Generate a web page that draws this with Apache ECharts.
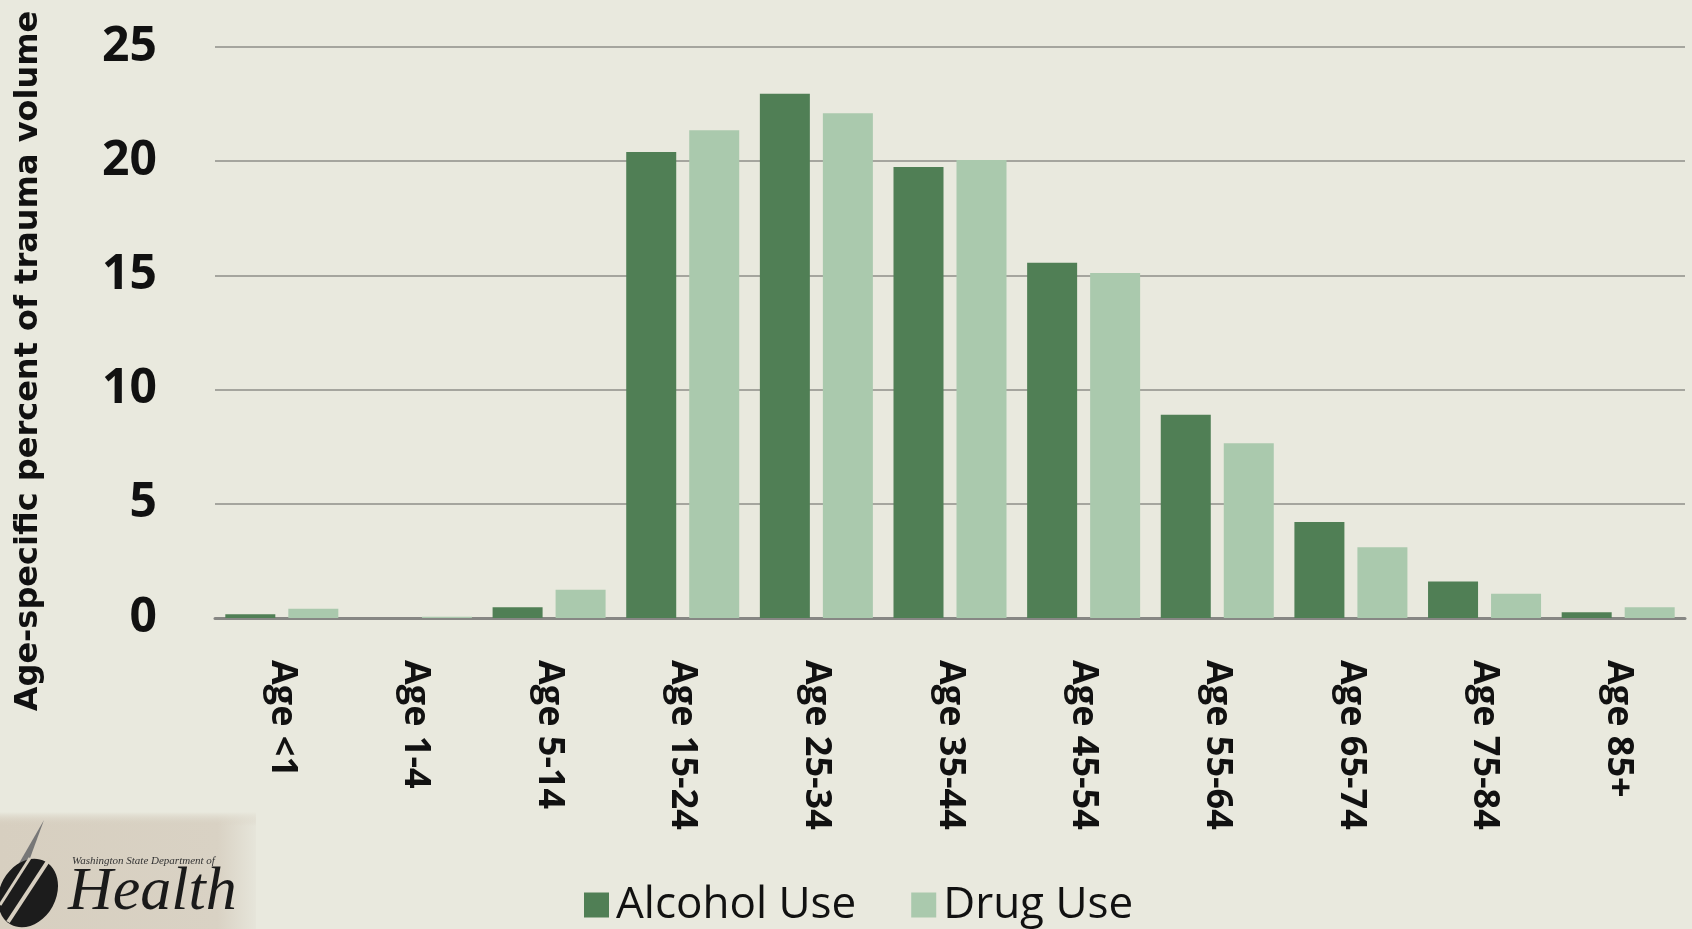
<!DOCTYPE html>
<html>
<head>
<meta charset="utf-8">
<script src="https://cdn.jsdelivr.net/npm/echarts@6/dist/echarts.min.js"></script>
<style>
html,body{margin:0;padding:0;background:#e9e9de;}
#chart{width:1692px;height:929px;}
</style>
</head>
<body>
<div id="chart"></div>
<script>
const categories = ['Age <1','Age 1-4','Age 5-14','Age 15-24','Age 25-34','Age 35-44','Age 45-54','Age 55-64','Age 65-74','Age 75-84','Age 85+'];
const alcoholUse = [0.16, 0, 0.47, 20.4, 22.95, 19.75, 15.55, 8.9, 4.2, 1.6, 0.25];
const drugUse = [0.41, 0.06, 1.24, 21.35, 22.1, 20.05, 15.1, 7.65, 3.1, 1.06, 0.47];
const yTicks = [0, 5, 10, 15, 20, 25];
const seriesNames = ['Alcohol Use', 'Drug Use'];
const yTitle = 'Age-specific percent of trauma volume';

const chart = echarts.init(document.getElementById('chart'), null, {renderer: 'canvas'});
const option = {
  backgroundColor: '#e9e9de',
  animation: false,
  textStyle: {fontFamily: 'Open Sans'},
  grid: {left: 215, right: 7, top: 47, bottom: 311, containLabel: false},
  legend: {
    data: seriesNames,
    left: 579, top: 878,
    itemWidth: 25, itemHeight: 25, itemGap: 55,
    icon: 'rect',
    textStyle: {fontSize: 44, color: '#111', fontFamily: 'Open Sans', padding: [0,0,0,2]}
  },
  xAxis: {
    type: 'category',
    data: categories,
    axisTick: {show: false},
    axisLine: {lineStyle: {color: '#878784', width: 3}},
    axisLabel: {rotate: -90, interval: 0, margin: 42, fontSize: 36, fontWeight: 'bold', color: '#111', fontFamily: 'Open Sans'}
  },
  yAxis: {
    type: 'value',
    min: yTicks[0], max: yTicks[yTicks.length-1], interval: 5,
    axisLine: {show: false},
    axisTick: {show: false},
    splitLine: {lineStyle: {color: '#8e8e89', width: 1.5}},
    axisLabel: {margin: 58, fontSize: 48, fontWeight: 'bold', color: '#111', fontFamily: 'Open Sans'}
  },
  series: [
    {name: seriesNames[0], type: 'bar', data: alcoholUse, barWidth: 50, barGap: '26%',
     itemStyle: {color: '#507f55'}},
    {name: seriesNames[1], type: 'bar', data: drugUse, barWidth: 50,
     itemStyle: {color: '#aac9ad'}}
  ],
  graphic: [
    {type: 'text', x: 13, y: 361, rotation: Math.PI/2, originX: 0, originY: 0,
     style: {text: yTitle, fontSize: 32, fontWeight: 600, fill: '#111', fontFamily: 'DejaVu Sans',
       textAlign: 'center', textVerticalAlign: 'top'}},
    {type: 'rect', shape: {x: 0, y: 812, width: 256, height: 117},
     style: {fill: new echarts.graphic.LinearGradient(0, 0, 1, 0, [
       {offset: 0, color: '#d7cfc0'}, {offset: 0.85, color: '#d9d2c4'}, {offset: 1, color: '#e6e5da'}])}},
    {type: 'rect', shape: {x: 0, y: 812, width: 256, height: 14},
     style: {fill: new echarts.graphic.LinearGradient(0, 0, 0, 1, [
       {offset: 0, color: '#e9e9de'}, {offset: 1, color: 'rgba(215,207,192,0)'}])}},
    {type: 'polygon', shape: {points: [[14,872],[44,820],[22,880]]}, style: {fill: '#777'}},
    {type: 'ellipse', shape: {cx: 28, cy: 893, rx: 28, ry: 36}, rotation: -0.5, originX: 28, originY: 893, style: {fill: '#1c1c1c'}},
    {type: 'line', shape: {x1: 8, y1: 922, x2: 50, y2: 858}, style: {stroke: '#d7cfc0', lineWidth: 4}},
    {type: 'line', shape: {x1: 0, y1: 905, x2: 30, y2: 858}, style: {stroke: '#d7cfc0', lineWidth: 3}},
    {type: 'text', x: 72, y: 856, style: {text: 'Washington State Department of', fontSize: 11, fontStyle: 'italic', fill: '#333', fontFamily: 'Liberation Serif'}},
    {type: 'text', x: 68, y: 862, style: {text: 'Health', fontSize: 62, fontStyle: 'italic', fill: '#1a1a1a', fontFamily: 'Liberation Serif'}}
  ]
};
chart.setOption(option);
</script>
</body>
</html>
